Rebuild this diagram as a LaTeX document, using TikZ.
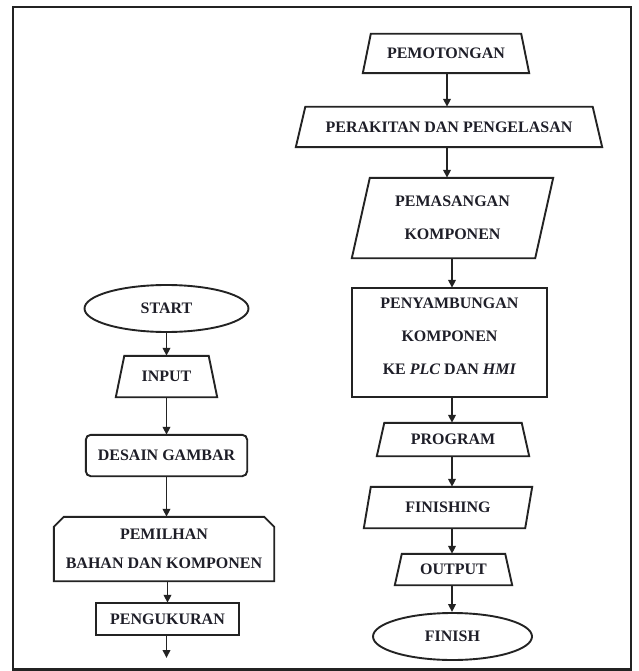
\documentclass[tikz,border=0pt]{standalone}
\usepackage{fontspec}
\setmainfont{Liberation Serif}
\usetikzlibrary{arrows.meta,shapes.geometric}
\definecolor{lin}{RGB}{35,35,35}
\definecolor{txt}{RGB}{30,30,40}
\tikzset{
  box/.style={rectangle, inner sep=0pt, align=center, text=txt,
    font=\bfseries\fontsize{16}{33}\selectfont},
  oval/.style={box, ellipse, draw=lin, line width=1.9pt},
  ln/.style={line width=1.9pt, draw=lin, line join=miter},
  arr/.style={ln, -{Triangle[length=8pt,width=7.5pt]}},
}
\begin{document}
\begin{tikzpicture}[x=1pt,y=-1pt]
\useasboundingbox (0,0) rectangle (638,671);
\draw[line width=2.2pt, draw=lin] (13,7) rectangle (631,669.5);

% left column
\node[oval, minimum width=164pt, minimum height=47pt] (start) at (166.5,308.5) {START};
\node[box, minimum width=101pt, minimum height=41pt] (input) at (166.5,376.5) {INPUT};
\node[box, minimum width=161pt, minimum height=41pt] (desain) at (166.5,455.5) {DESAIN GAMBAR};
\node[box, minimum width=220pt, minimum height=64pt, font=\bfseries\fontsize{16}{29}\selectfont] (pilih) at (164,549) {PEMILHAN\\BAHAN DAN KOMPONEN};
\node[box, minimum width=143pt, minimum height=32pt] (ukur) at (167.5,619) {PENGUKURAN};
\coordinate (lend) at (166.5,658);

\draw[ln] ([xshift=8.5pt]input.north west) -- ([xshift=-8.5pt]input.north east) -- (input.south east) -- (input.south west) -- cycle;
\draw[ln, rounded corners=5pt] (desain.north west) rectangle (desain.south east);
\draw[ln] (pilih.south west) -- ([yshift=-10pt]pilih.north west) -- ([xshift=10pt]pilih.north west) -- ([xshift=-10pt]pilih.north east) -- ([yshift=-10pt]pilih.north east) -- (pilih.south east) -- cycle;
\draw[ln] (ukur.north west) rectangle (ukur.south east);

\draw[arr] (start.south) -- (start.south |- input.north);
\draw[arr] (input.south) -- (input.south |- desain.north);
\draw[arr] (desain.south) -- (desain.south |- pilih.north);
\draw[arr] (pilih.south -| ukur.north) -- (ukur.north);
\draw[arr] (ukur.south -| lend) -- (lend);

% right column
\node[box, minimum width=166pt, minimum height=39pt] (potong) at (446,53.5) {PEMOTONGAN};
\node[box, minimum width=306pt, minimum height=40pt] (rakit) at (449,127) {PERAKITAN DAN PENGELASAN};
\node[box, minimum width=201pt, minimum height=80pt] (pasang) at (452.5,218) {PEMASANGAN\\KOMPONEN};
\node[box, minimum width=195pt, minimum height=109pt] (sambung) at (449.5,342.5) {};
\node[box] (sambungtxt) at ([yshift=6pt]sambung.center) {PENYAMBUNGAN\\KOMPONEN\\KE \textit{PLC} DAN \textit{HMI}};
\node[box, minimum width=152pt, minimum height=33pt] (program) at (453,439.5) {PROGRAM};
\node[box, minimum width=168pt, minimum height=41pt] (finishing) at (448,507.5) {FINISHING};
\node[box, minimum width=117pt, minimum height=31pt] (output) at (453.5,569.5) {OUTPUT};
\node[oval, minimum width=159pt, minimum height=47pt] (finish) at (452.5,636.5) {FINISH};

\draw[ln] ([xshift=8pt]potong.north west) -- ([xshift=-8pt]potong.north east) -- (potong.south east) -- (potong.south west) -- cycle;
\draw[ln] ([xshift=9.5pt]rakit.north west) -- ([xshift=-9.5pt]rakit.north east) -- (rakit.south east) -- (rakit.south west) -- cycle;
\draw[ln] ([xshift=18pt]pasang.north west) -- (pasang.north east) -- ([xshift=-18pt]pasang.south east) -- (pasang.south west) -- cycle;
\draw[ln] (sambung.north west) rectangle (sambung.south east);
\draw[ln] ([xshift=7.5pt]program.north west) -- ([xshift=-7.5pt]program.north east) -- (program.south east) -- (program.south west) -- cycle;
\draw[ln] ([xshift=7pt]finishing.north west) -- (finishing.north east) -- ([xshift=-7pt]finishing.south east) -- (finishing.south west) -- cycle;
\draw[ln] ([xshift=7pt]output.north west) -- ([xshift=-7pt]output.north east) -- (output.south east) -- (output.south west) -- cycle;

\coordinate (cx1) at (447,0);
\coordinate (cx2) at (452,0);
\draw[arr] (potong.south -| cx1) -- (rakit.north -| cx1);
\draw[arr] (rakit.south -| cx1) -- (pasang.north -| cx1);
\draw[arr] (pasang.south -| cx2) -- (sambung.north -| cx2);
\draw[arr] (sambung.south -| cx2) -- (program.north -| cx2);
\draw[arr] (program.south -| cx2) -- (finishing.north -| cx2);
\draw[arr] (finishing.south -| cx2) -- (output.north -| cx2);
\draw[arr] (output.south -| cx2) -- (finish.north -| cx2);
\end{tikzpicture}
\end{document}
